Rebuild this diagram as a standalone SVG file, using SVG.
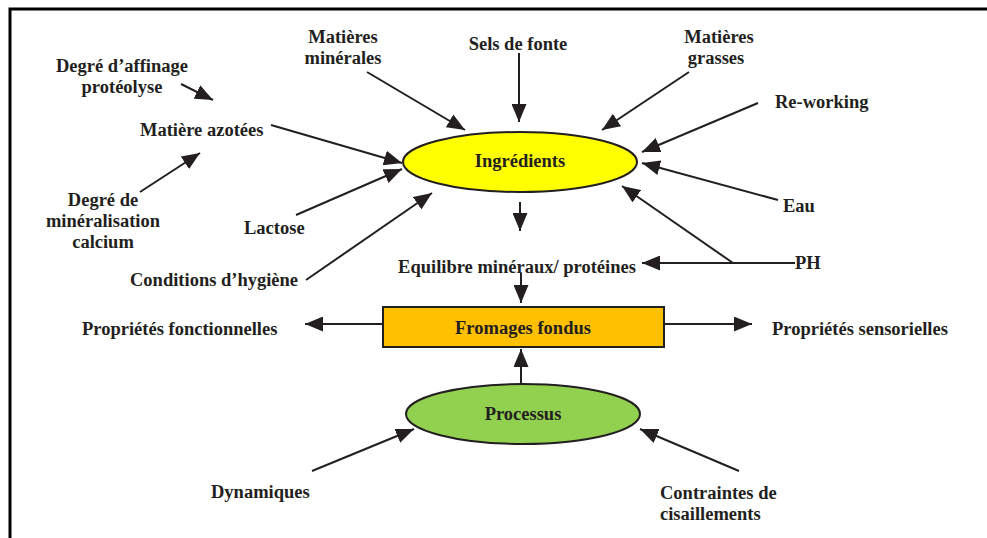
<svg xmlns="http://www.w3.org/2000/svg" width="987" height="538" viewBox="0 0 987 538">
<style>
text{font-family:"Liberation Serif","Times New Roman",serif;font-weight:bold;font-size:18.5px;fill:#231f20}
.c{text-anchor:middle}
.ln{stroke:#231f20;stroke-width:2;fill:none}
.a{marker-end:url(#ah)}
</style>
<defs>
<marker id="ah" markerUnits="userSpaceOnUse" markerWidth="18" markerHeight="15" viewBox="0 0 18 15" refX="18" refY="7.5" orient="auto">
<path d="M0,0 L18,7.5 L0,15 Z" fill="#231f20"/>
</marker>
</defs>
<rect width="987" height="538" fill="#fff"/>
<path d="M10,538 V9 H987" fill="none" stroke="#000" stroke-width="3"/>

<g id="connectors">
<line class="ln a" x1="181" y1="84" x2="213" y2="100"/>
<line class="ln a" x1="140" y1="192" x2="200" y2="153"/>
<line class="ln a" x1="271" y1="125" x2="402" y2="163"/>
<line class="ln a" x1="367" y1="72" x2="465" y2="130"/>
<line class="ln a" x1="519" y1="53" x2="519" y2="122"/>
<line class="ln a" x1="689" y1="72" x2="602" y2="130"/>
<line class="ln a" x1="758" y1="103" x2="642" y2="152"/>
<line class="ln a" x1="778" y1="200" x2="642" y2="163"/>
<line class="ln a" x1="795" y1="263" x2="642" y2="263"/>
<line class="ln a" x1="733" y1="263" x2="622" y2="186"/>
<line class="ln a" x1="296" y1="215" x2="402" y2="169"/>
<line class="ln a" x1="306" y1="280" x2="432" y2="193"/>
<line class="ln a" x1="520" y1="202" x2="520" y2="231"/>
<line class="ln a" x1="521" y1="273" x2="521" y2="303"/>
<line class="ln a" x1="383" y1="324" x2="305" y2="324"/>
<line class="ln a" x1="664" y1="324" x2="752" y2="324"/>
<line class="ln a" x1="521" y1="385" x2="521" y2="349"/>
<line class="ln a" x1="312" y1="471" x2="414" y2="429"/>
<line class="ln a" x1="739" y1="471" x2="640" y2="429"/>
</g>

<g id="ingredients">
<ellipse cx="520" cy="162" rx="117" ry="30" fill="#ffff00" stroke="#231f20" stroke-width="2"/>
<text class="c" x="520" y="167">Ingrédients</text>
</g>
<g id="fromages">
<rect x="383" y="307" width="281" height="40" fill="#ffc000" stroke="#231f20" stroke-width="2"/>
<text class="c" x="523" y="334">Fromages fondus</text>
</g>
<g id="processus">
<ellipse cx="523" cy="414" rx="117" ry="30" fill="#92d050" stroke="#231f20" stroke-width="2"/>
<text class="c" x="523" y="420">Processus</text>
</g>

<g id="matieres-minerales"><text class="c" x="343" y="43">Matières</text><text class="c" x="343" y="64">minérales</text></g>
<g id="sels"><text class="c" x="518" y="50">Sels de fonte</text></g>
<g id="matieres-grasses"><text class="c" x="719" y="43">Matières</text><text class="c" x="716" y="64">grasses</text></g>
<g id="reworking"><text x="775" y="108">Re-working</text></g>
<g id="affinage"><text class="c" x="122" y="72">Degré d’affinage</text><text class="c" x="122" y="93">protéolyse</text></g>
<g id="azotees"><text x="140" y="136">Matière azotées</text></g>
<g id="mineralisation"><text class="c" x="103" y="206">Degré de</text><text class="c" x="103" y="227">minéralisation</text><text class="c" x="103" y="248">calcium</text></g>
<g id="lactose"><text x="244" y="234">Lactose</text></g>
<g id="hygiene"><text x="130" y="286">Conditions d’hygiène</text></g>
<g id="eau"><text x="783" y="212">Eau</text></g>
<g id="ph"><text x="795" y="269">PH</text></g>
<g id="equilibre"><text class="c" x="517" y="273">Equilibre minéraux/ protéines</text></g>
<g id="fonctionnelles"><text x="82" y="335">Propriétés fonctionnelles</text></g>
<g id="sensorielles"><text x="772" y="335">Propriétés sensorielles</text></g>
<g id="dynamiques"><text x="211" y="498">Dynamiques</text></g>
<g id="contraintes"><text x="660" y="499">Contraintes de</text><text x="660" y="520">cisaillements</text></g>
</svg>
